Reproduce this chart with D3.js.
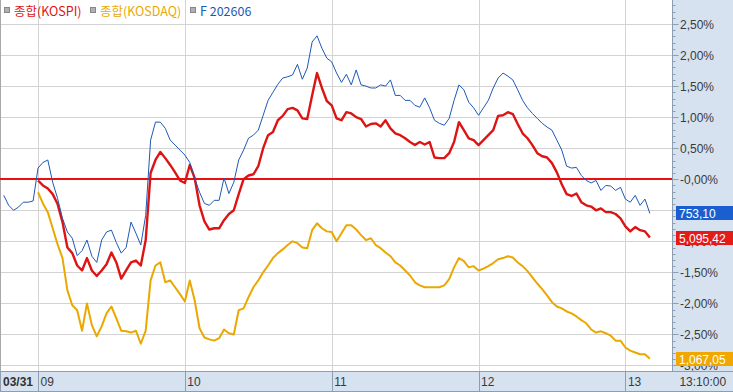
<!DOCTYPE html>
<html>
<head>
<meta charset="utf-8">
<script src="https://cdn.jsdelivr.net/npm/d3@7"></script>
<style>
  body { margin: 0; background: #fff; }
  svg { display: block; }
</style>
</head>
<body>
<svg id="chart" width="733" height="392"></svg>
<script>
// legend names, end-of-line prices, axis labels
const seriesNames = ["종합(KOSPI)", "종합(KOSDAQ)", "F 202606"];
const lastPrices = ["5,095,42", "1,067,05", "753,10"];
const hourLabels = ["09", "10", "11", "12", "13"];
const dateLabel = "03/31";
const lastTimeLabel = "13:10:00";
const yTicks = [2.5, 2, 1.5, 1, 0.5, 0, -0.5, -1, -1.5, -2, -2.5, -3];

// % change, sampled every 2 minutes
const futStart = "08:46";
const idxStart = "09:00";
const stepMin = 2;

const futures = [
  -0.26, -0.42, -0.50, -0.45, -0.37, -0.37, -0.35,
  0.18, 0.27, 0.31, -0.05, -0.31, -0.63, -0.85, -0.95, -1.23, -1.15,
  -0.98, -1.24, -1.34, -0.98, -0.85, -0.82, -1.02, -1.19, -1.10, -0.69,
  -0.87, -1.06, -0.58, 0.63, 0.92, 0.92, 0.82, 0.63, 0.55, 0.47,
  0.39, 0.27, 0.02, -0.21, -0.39, -0.42, -0.34, -0.34, 0.02, -0.23,
  -0.05, 0.31, 0.47, 0.66, 0.71, 0.79, 1.03, 1.27, 1.40, 1.53,
  1.63, 1.65, 1.68, 1.85, 1.61, 1.79, 2.21, 2.31, 2.11, 1.95,
  1.89, 1.71, 1.56, 1.69, 1.52, 1.76, 1.52, 1.50, 1.47, 1.47,
  1.52, 1.50, 1.60, 1.35, 1.35, 1.27, 1.27, 1.19, 1.16, 1.31,
  1.15, 0.95, 0.90, 0.87, 0.98, 1.27, 1.52, 1.44, 1.24, 1.15,
  1.03, 1.15, 1.27, 1.47, 1.63, 1.71, 1.66, 1.60, 1.44, 1.27,
  1.15, 1.06, 0.98, 0.90, 0.84, 0.79, 0.63, 0.47, 0.21, 0.18,
  0.19, 0.06, -0.02, -0.06, -0.02, -0.18, -0.10, -0.11, -0.18, -0.13,
  -0.32, -0.37, -0.26, -0.42, -0.32, -0.55
];

const kospi = [
  -0.02, -0.10, -0.15, -0.24, -0.40, -0.69, -1.10, -1.19, -1.39, -1.47,
  -1.27, -1.47, -1.56, -1.47, -1.37, -1.18, -1.34, -1.60, -1.47, -1.34,
  -1.31, -1.39, -0.98, 0.10, 0.31, 0.44, 0.34, 0.23, 0.11, -0.02,
  -0.06, 0.23, 0.02, -0.42, -0.68, -0.81, -0.79, -0.79, -0.66, -0.56,
  -0.50, -0.24, 0.00, 0.06, 0.08, 0.21, 0.50, 0.71, 0.76, 0.95,
  1.02, 1.13, 1.15, 1.11, 0.98, 0.97, 1.35, 1.71, 1.47, 1.26,
  1.19, 0.98, 0.95, 1.08, 1.06, 1.00, 0.97, 0.85, 0.89, 0.90,
  0.85, 0.95, 0.82, 0.74, 0.71, 0.66, 0.60, 0.55, 0.60, 0.56,
  0.60, 0.35, 0.34, 0.34, 0.42, 0.60, 0.92, 0.79, 0.66, 0.63,
  0.55, 0.63, 0.71, 0.79, 1.02, 1.03, 1.08, 1.05, 0.89, 0.74,
  0.66, 0.55, 0.42, 0.37, 0.35, 0.26, 0.11, -0.08, -0.24, -0.27,
  -0.23, -0.37, -0.42, -0.44, -0.50, -0.47, -0.53, -0.53, -0.56, -0.63,
  -0.76, -0.84, -0.77, -0.82, -0.84, -0.94
];

const kosdaq = [
  -0.21, -0.39, -0.53, -0.79, -1.05, -1.27, -1.79, -2.03, -2.11, -2.44,
  -2.00, -2.35, -2.53, -2.37, -2.16, -2.05, -2.24, -2.44, -2.45, -2.47,
  -2.44, -2.65, -2.44, -1.63, -1.39, -1.34, -1.66, -1.63, -1.74, -1.85,
  -1.97, -1.63, -1.95, -2.40, -2.55, -2.58, -2.60, -2.56, -2.42, -2.48,
  -2.50, -2.11, -2.08, -1.90, -1.74, -1.63, -1.50, -1.39, -1.27, -1.19,
  -1.13, -1.06, -1.00, -1.03, -1.10, -1.11, -0.82, -0.71, -0.79, -0.84,
  -0.85, -1.00, -0.87, -0.74, -0.74, -0.81, -0.90, -0.98, -0.95, -1.06,
  -1.11, -1.18, -1.24, -1.34, -1.39, -1.47, -1.55, -1.66, -1.71, -1.74,
  -1.74, -1.74, -1.74, -1.71, -1.61, -1.42, -1.27, -1.32, -1.42, -1.40,
  -1.47, -1.44, -1.40, -1.35, -1.29, -1.27, -1.24, -1.26, -1.34, -1.40,
  -1.48, -1.58, -1.68, -1.77, -1.87, -1.98, -2.05, -2.08, -2.13, -2.16,
  -2.21, -2.27, -2.32, -2.42, -2.47, -2.45, -2.48, -2.52, -2.60, -2.60,
  -2.71, -2.76, -2.79, -2.82, -2.82, -2.89
];

const colors = ["#dc1414", "#eaa800", "#1d58b8"];
const boxColors = ["#e31b1b", "#f0a800", "#1a5fd0"];
const panelFill = "#d6e2ef";
const panelLine = "#8d9db2";
const gridColor = "#d3d3d3";

const width = 733, height = 392;
const axisX = 672.5, plotBottom = 371.5;

const svg = d3.select("#chart");
const parseTime = d3.timeParse("%H:%M");

function toPoints(values, start) {
  const t0 = parseTime(start);
  return values.map((v, i) => ({ t: d3.timeMinute.offset(t0, i * stepMin), v: v }));
}

const data = [
  toPoints(kospi, idxStart),
  toPoints(kosdaq, idxStart),
  toPoints(futures, futStart)
];

const x = d3.scaleTime()
  .domain([new Date(1900, 0, 1, 8, 44, 28), new Date(1900, 0, 1, 13, 19, 15)])
  .range([0, axisX]);

const y = d3.scaleLinear()
  .domain([-3.097, 2.887])
  .range([plotBottom, 0]);

const hours = hourLabels.map(h => parseTime(h + ":00"));

// grid (the zero line is drawn separately in red)
const grid = svg.append("g");
grid.selectAll(".hg")
  .data(yTicks.filter(d => d !== 0))
  .enter()
  .append("line")
  .attr("x1", 0).attr("x2", axisX)
  .attr("y1", d => Math.round(y(d)) + 0.5).attr("y2", d => Math.round(y(d)) + 0.5)
  .attr("stroke", gridColor);
grid.selectAll(".vg")
  .data(hours)
  .enter()
  .append("line")
  .attr("x1", d => Math.round(x(d)) + 0.5).attr("x2", d => Math.round(x(d)) + 0.5)
  .attr("y1", 0).attr("y2", plotBottom)
  .attr("stroke", gridColor);

// left border
svg.append("line")
  .attr("x1", 0.5).attr("x2", 0.5).attr("y1", 0).attr("y2", plotBottom)
  .attr("stroke", "#a8a8a8");

// zero line
svg.append("rect")
  .attr("x", 0).attr("width", axisX)
  .attr("y", Math.round(y(0)) - 1).attr("height", 2)
  .attr("fill", "#e81010")
  .attr("shape-rendering", "crispEdges");

// series
const line = d3.line()
  .x(d => x(d.t))
  .y(d => y(d.v));

const widths = [2.4, 2, 1];
[1, 0, 2].forEach(i => {
  svg.append("path")
    .datum(data[i])
    .attr("fill", "none")
    .attr("stroke", colors[i])
    .attr("stroke-width", widths[i])
    .attr("stroke-linejoin", "round")
    .attr("d", line);
});

// right axis panel
svg.append("rect")
  .attr("x", axisX).attr("y", 0)
  .attr("width", width - axisX).attr("height", plotBottom)
  .attr("fill", panelFill);

const minorTicks = d3.range(-31, 29).map(d => d / 10);
svg.selectAll(".mt")
  .data(minorTicks)
  .enter()
  .append("line")
  .attr("x1", axisX).attr("x2", d => axisX + (Math.abs(Math.round(d * 10)) % 5 === 0 ? 6 : 3))
  .attr("y1", d => Math.round(y(d)) + 0.5).attr("y2", d => Math.round(y(d)) + 0.5)
  .attr("stroke", panelLine);

const fmt = d3.format(".2f");
const tickLabel = d => (d <= 0 ? "-" : "") + fmt(Math.abs(d)).replace(".", ",") + "%";

svg.selectAll(".yl")
  .data(yTicks)
  .enter()
  .append("text")
  .attr("x", 680)
  .attr("y", d => y(d) + 4.5)
  .attr("font-family", "Liberation Sans, Arial, sans-serif")
  .attr("font-size", "12px")
  .attr("fill", "#3a3a3a")
  .text(tickLabel);

svg.append("line")
  .attr("x1", axisX).attr("x2", axisX).attr("y1", 0).attr("y2", height)
  .attr("stroke", panelLine);

// last price boxes
data.forEach((pts, i) => {
  const cy = y(pts[pts.length - 1].v);
  svg.append("rect")
    .attr("x", 676).attr("y", Math.round(cy - 7))
    .attr("width", width - 676).attr("height", 14)
    .attr("fill", boxColors[i]);
  svg.append("text")
    .attr("x", 679).attr("y", Math.round(cy - 7) + 11.5)
    .attr("font-family", "Liberation Sans, Arial, sans-serif")
    .attr("font-size", "12px")
    .attr("fill", "#fff")
    .text(lastPrices[i]);
});

// bottom time axis
svg.append("rect")
  .attr("x", 0).attr("y", plotBottom)
  .attr("width", width).attr("height", height - plotBottom)
  .attr("fill", panelFill);
svg.append("line")
  .attr("x1", 0).attr("x2", width).attr("y1", plotBottom).attr("y2", plotBottom)
  .attr("stroke", panelLine);
svg.append("line")
  .attr("x1", 0).attr("x2", width).attr("y1", height - 0.5).attr("y2", height - 0.5)
  .attr("stroke", panelLine);
svg.append("line")
  .attr("x1", 0.5).attr("x2", 0.5).attr("y1", plotBottom).attr("y2", height)
  .attr("stroke", panelLine);

svg.selectAll(".xs")
  .data(hours)
  .enter()
  .append("line")
  .attr("x1", d => Math.round(x(d)) + 0.5).attr("x2", d => Math.round(x(d)) + 0.5)
  .attr("y1", plotBottom).attr("y2", height)
  .attr("stroke", panelLine);

svg.selectAll(".xl")
  .data(hours)
  .enter()
  .append("text")
  .attr("x", d => x(d) + 2.5)
  .attr("y", 386)
  .attr("font-family", "Liberation Sans, Arial, sans-serif")
  .attr("font-size", "12px")
  .attr("fill", "#3a3a3a")
  .text((d, i) => hourLabels[i]);

svg.append("text")
  .attr("x", 3).attr("y", 386)
  .attr("font-family", "Liberation Sans, Arial, sans-serif")
  .attr("font-size", "12px")
  .attr("font-weight", "bold")
  .attr("fill", "#333")
  .text(dateLabel);

svg.append("text")
  .attr("x", (axisX + width) / 2).attr("y", 386)
  .attr("text-anchor", "middle")
  .attr("font-family", "Liberation Sans, Arial, sans-serif")
  .attr("font-size", "12px")
  .attr("fill", "#3a3a3a")
  .text(lastTimeLabel);

// legend
const legendX = [4, 90, 190];
seriesNames.forEach((name, i) => {
  svg.append("rect")
    .attr("x", legendX[i] + 0.5).attr("y", 7.5)
    .attr("width", 5).attr("height", 5)
    .attr("fill", "#b0b0b0").attr("stroke", "#888");
  svg.append("text")
    .attr("x", legendX[i] + 10).attr("y", 15.5)
    .attr("font-family", "Noto Sans CJK KR, sans-serif")
    .attr("font-size", "12.5px")
    .attr("fill", colors[i])
    .text(name);
});
</script>
</body>
</html>
